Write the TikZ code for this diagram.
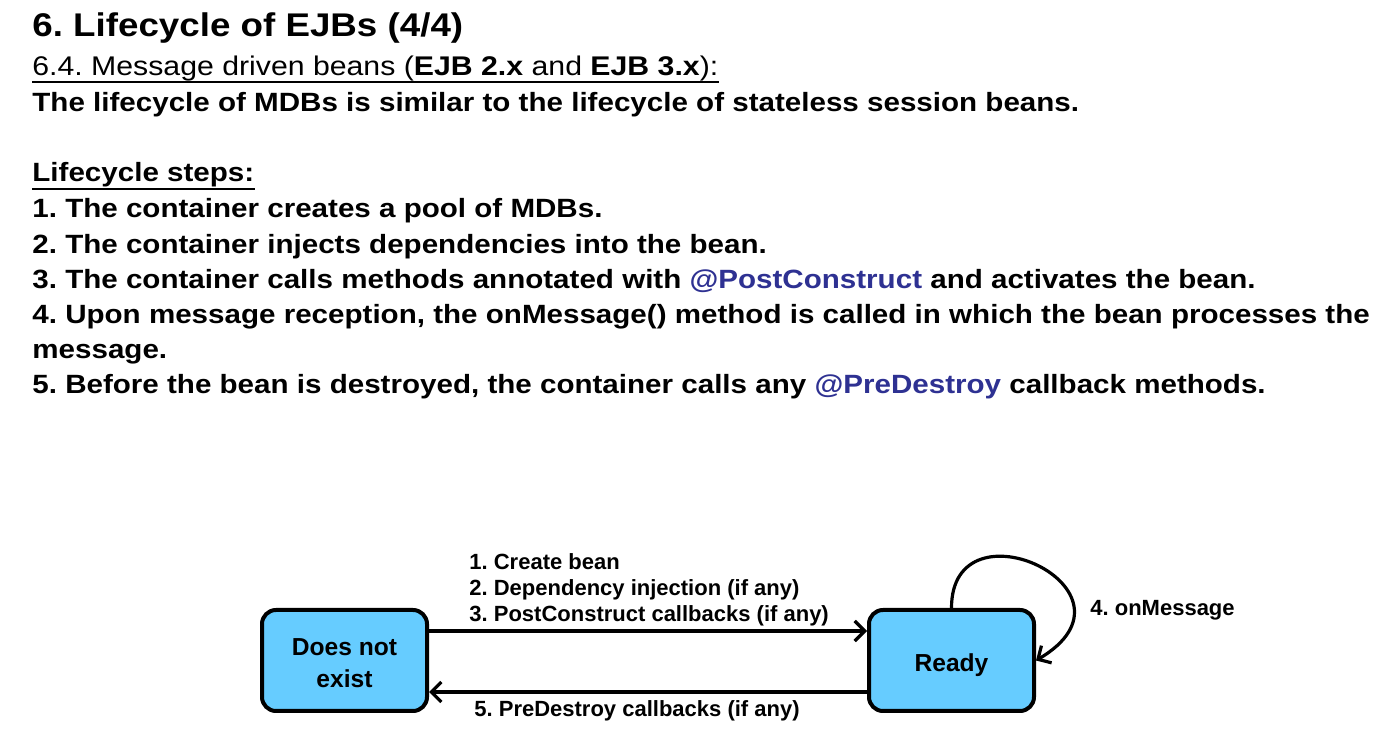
\documentclass[tikz,border=0pt]{standalone}
\usepackage{fontspec}
\setmainfont{Liberation Sans}[FakeStretch=1.12]
\newfontfamily\diagfont{Liberation Sans}
\usetikzlibrary{arrows.meta}
\definecolor{beanblue}{RGB}{102,204,255}
\definecolor{annot}{RGB}{46,49,146}
\newcommand\slidefont{\fontsize{13.2}{17.65}\selectfont}
\frenchspacing

\begin{document}
\begin{tikzpicture}[x=0.5pt,y=-0.5pt,
  txt/.style={anchor=base west,inner sep=0pt,font=\slidefont\bfseries},
  lbl/.style={anchor=base west,inner sep=0pt,font=\diagfont\fontsize{11}{13}\selectfont\bfseries},
  state/.style={draw,line width=2pt,rounded corners=7pt,fill=beanblue,
    minimum width=82.5pt,minimum height=50.5pt,align=center,
    font=\diagfont\fontsize{12.3}{16}\selectfont\bfseries},
  flow/.style={line width=1.6pt,-{Straight Barb[length=5pt,width=10pt,line width=1.6pt]}}]
\useasboundingbox (0,0) rectangle (1383,753);
% slide text
\node[txt,font=\fontsize{16.4}{20}\selectfont\bfseries] (title) at (32,37) {6. Lifecycle of EJBs (4/4)};
\node[txt,font=\fontsize{13.5}{17.65}\selectfont] (subtitle) at (32,76) {6.4. Message driven beans (\textbf{EJB 2.x} and \textbf{EJB 3.x}):};
\draw[line width=1.2pt] ([yshift=-3pt]subtitle.base west) -- ([yshift=-3pt]subtitle.base east);
\node[txt] (intro) at (32,112) {The lifecycle of MDBs is similar to the lifecycle of stateless session beans.};
\node[txt] (steps) at (32,182) {Lifecycle steps:};
\draw[line width=1.2pt] ([yshift=-3.5pt]steps.base west) -- ([yshift=-3.5pt]steps.base east);
\node[txt] (stepone) at (32,218) {1. The container creates a pool of MDBs.};
\node[txt] (steptwo) at (32,254) {2. The container injects dependencies into the bean.};
\node[txt] (stepthree) at (32,289) {3. The container calls methods annotated with \textcolor{annot}{@PostConstruct} and activates the bean.};
\node[txt] (stepfour) at (32,324) {4. Upon message reception, the onMessage() method is called in which the bean processes the};
\node[txt] (stepfourb) at (32,359) {message.};
\node[txt] (stepfive) at (32,394) {5. Before the bean is destroyed, the container calls any \textcolor{annot}{@PreDestroy} callback methods.};
% state diagram
\node[state,text height=27.5pt] (nonexist) at (344.5,660.5) {Does not\\exist};
\node[state,text height=14pt] (ready) at (951.5,660.5) {Ready};
\draw[flow] ([yshift=14.75pt]nonexist.east) -- ([yshift=14.75pt]ready.west);
\draw[flow] ([yshift=-15.75pt]ready.west) -- ([yshift=-15.75pt]nonexist.east);
\draw[flow] (ready.north) .. controls +(0,-112) and +(118,-70) .. (ready.east);
\node[lbl] (create) at (469,570) {1. Create bean};
\node[lbl] (inject) at (469,596) {2. Dependency injection (if any)};
\node[lbl] (post) at (469,622) {3. PostConstruct callbacks (if any)};
\node[lbl] (destroy) at (474,717) {5. PreDestroy callbacks (if any)};
\node[lbl] (onmsg) at (1090,616) {4. onMessage};
\end{tikzpicture}
\end{document}
